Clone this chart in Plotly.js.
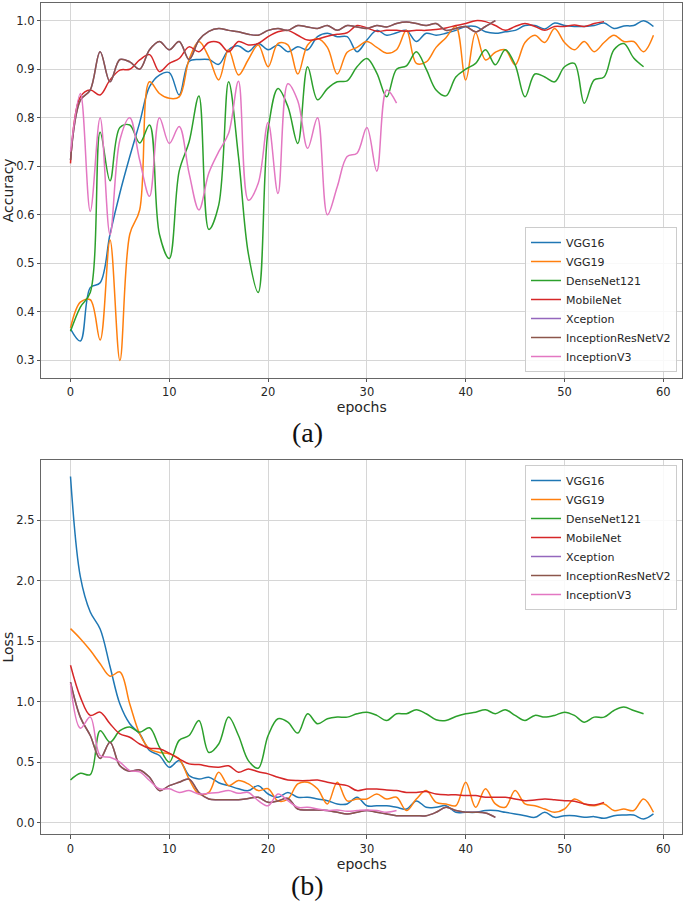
<!DOCTYPE html>
<html>
<head>
<meta charset="utf-8">
<script src="https://cdn.plot.ly/plotly-3.0.1.min.js"></script>
<style>
  html, body { margin: 0; padding: 0; background: #ffffff; }
  #chart { width: 685px; height: 907px; }
</style>
</head>
<body>
<div id="chart"></div>
<script>
// ---------------- data ----------------
const modelNames = ["VGG16", "VGG19", "DenseNet121", "MobileNet", "Xception", "InceptionResNetV2", "InceptionV3"];
const xTicks = [0, 10, 20, 30, 40, 50, 60];

// Accuracy per epoch
const vgg16Acc = [0.365, 0.34, 0.45, 0.46, 0.56, 0.645, 0.72, 0.79, 0.864, 0.888, 0.893, 0.847, 0.916, 0.92, 0.92, 0.91, 0.94, 0.948, 0.936, 0.953,
  0.94, 0.95, 0.936, 0.946, 0.94, 0.967, 0.974, 0.967, 0.967, 0.936, 0.96, 0.98, 0.97, 0.975, 0.98, 0.957, 0.974, 0.97, 0.974, 0.98,
  0.988, 0.988, 0.977, 0.974, 0.977, 0.98, 0.99, 0.99, 0.983, 0.995, 0.99, 0.988, 0.988, 0.99, 0.995, 0.984, 0.989, 0.99, 1.0, 0.988];
const vgg19Acc = [0.367, 0.42, 0.425, 0.342, 0.548, 0.30, 0.56, 0.61, 0.874, 0.85, 0.84, 0.843, 0.92, 0.957, 0.925, 0.878, 0.94, 0.888, 0.92, 0.95,
  0.905, 0.953, 0.95, 0.89, 0.95, 0.963, 0.945, 0.89, 0.935, 0.945, 0.957, 0.945, 0.933, 0.94, 0.98, 0.912, 0.915, 0.945, 0.965, 0.988,
  0.878, 0.975, 0.919, 0.935, 0.94, 0.909, 0.955, 0.97, 0.955, 0.984, 0.955, 0.94, 0.957, 0.936, 0.955, 0.97, 0.957, 0.957, 0.936, 0.97];
const denseAcc = [0.36, 0.41, 0.44, 0.77, 0.67, 0.78, 0.785, 0.748, 0.785, 0.56, 0.51, 0.69, 0.75, 0.845, 0.57, 0.62, 0.874, 0.72, 0.52, 0.44,
  0.775, 0.86, 0.823, 0.747, 0.905, 0.837, 0.86, 0.874, 0.876, 0.905, 0.922, 0.892, 0.843, 0.9, 0.907, 0.936, 0.9, 0.857, 0.845, 0.884,
  0.9, 0.912, 0.94, 0.909, 0.94, 0.909, 0.843, 0.89, 0.884, 0.874, 0.905, 0.912, 0.83, 0.878, 0.884, 0.94, 0.953, 0.923, 0.905];
const mobileAcc = [0.706, 0.843, 0.857, 0.847, 0.878, 0.898, 0.9, 0.919, 0.93, 0.895, 0.912, 0.922, 0.946, 0.936, 0.955, 0.955, 0.936, 0.957, 0.95, 0.953,
  0.967, 0.977, 0.98, 0.97, 0.96, 0.962, 0.968, 0.972, 0.975, 0.99, 0.985, 0.978, 0.98, 0.98, 0.978, 0.98, 0.98, 0.982, 0.985, 0.99,
  0.994, 1.0, 0.998, 0.99, 0.98, 0.988, 0.994, 0.988, 0.98, 0.988, 0.988, 0.991, 0.988, 0.994, 0.998];
const xceptionAcc = [0.713, 0.836, 0.857, 0.936, 0.874, 0.92, 0.915, 0.9, 0.94, 0.957, 0.94, 0.957, 0.92, 0.96, 0.978, 0.984, 0.98, 0.977, 0.972, 0.97,
  0.98, 0.984, 0.98, 0.99, 0.987, 0.984, 0.99, 0.98, 0.99, 0.987, 0.984, 0.99, 0.987, 0.994, 0.997, 0.994, 0.99, 0.994, 0.98, 0.984,
  0.988, 0.977, 0.988, 1.0];
const incResAcc = [0.713, 0.836, 0.857, 0.936, 0.874, 0.92, 0.915, 0.9, 0.94, 0.957, 0.94, 0.957, 0.92, 0.96, 0.978, 0.984, 0.98, 0.977, 0.972, 0.97,
  0.98, 0.984, 0.98, 0.99, 0.987, 0.984, 0.99, 0.98, 0.99, 0.987, 0.984, 0.99, 0.987, 0.994, 0.997, 0.994, 0.99, 0.994, 0.98, 0.984,
  0.988, 0.977, 0.988, 1.0];
const incV3Acc = [0.73, 0.85, 0.607, 0.80, 0.559, 0.754, 0.80, 0.713, 0.638, 0.80, 0.747, 0.782, 0.686, 0.61, 0.686, 0.73, 0.768, 0.875, 0.63, 0.665,
  0.79, 0.644, 0.87, 0.835, 0.737, 0.80, 0.60, 0.658, 0.72, 0.727, 0.78, 0.69, 0.857, 0.83];

// Loss per epoch
const vgg16Loss = [2.86, 2.03, 1.74, 1.60, 1.29, 0.98, 0.817, 0.734, 0.596, 0.555, 0.458, 0.513, 0.39, 0.36, 0.375, 0.33, 0.306, 0.28, 0.265, 0.306,
  0.237, 0.21, 0.25, 0.21, 0.21, 0.196, 0.182, 0.155, 0.155, 0.21, 0.14, 0.14, 0.14, 0.127, 0.113, 0.18, 0.127, 0.127, 0.14, 0.086,
  0.086, 0.086, 0.1, 0.1, 0.086, 0.072, 0.058, 0.044, 0.086, 0.044, 0.058, 0.058, 0.044, 0.05, 0.036, 0.058, 0.063, 0.063, 0.03, 0.072];
const vgg19Loss = [1.603, 1.52, 1.424, 1.313, 1.21, 1.245, 0.98, 0.734, 0.61, 0.58, 0.568, 0.527, 0.36, 0.237, 0.25, 0.417, 0.306, 0.348, 0.32, 0.265,
  0.28, 0.18, 0.195, 0.32, 0.334, 0.28, 0.155, 0.334, 0.18, 0.195, 0.196, 0.237, 0.195, 0.21, 0.1, 0.195, 0.265, 0.168, 0.155, 0.14,
  0.334, 0.127, 0.28, 0.155, 0.127, 0.265, 0.155, 0.14, 0.113, 0.086, 0.113, 0.196, 0.155, 0.14, 0.155, 0.1, 0.113, 0.1, 0.196, 0.086];
const denseLoss = [0.353, 0.408, 0.397, 0.76, 0.665, 0.76, 0.79, 0.748, 0.784, 0.624, 0.5, 0.68, 0.72, 0.844, 0.58, 0.65, 0.872, 0.72, 0.513, 0.45,
  0.72, 0.858, 0.83, 0.74, 0.9, 0.817, 0.858, 0.872, 0.872, 0.9, 0.913, 0.886, 0.844, 0.9, 0.9, 0.933, 0.9, 0.85, 0.844, 0.877,
  0.9, 0.913, 0.933, 0.9, 0.933, 0.886, 0.844, 0.886, 0.872, 0.886, 0.913, 0.886, 0.83, 0.872, 0.872, 0.927, 0.955, 0.927, 0.9];
const mobileLoss = [1.3, 1.037, 0.886, 0.913, 0.817, 0.734, 0.706, 0.65, 0.615, 0.61, 0.574, 0.527, 0.486, 0.48, 0.464, 0.458, 0.47, 0.417, 0.444, 0.42,
  0.403, 0.375, 0.353, 0.348, 0.348, 0.353, 0.334, 0.32, 0.306, 0.265, 0.278, 0.278, 0.27, 0.265, 0.25, 0.25, 0.257, 0.237, 0.23, 0.23,
  0.224, 0.224, 0.21, 0.21, 0.21, 0.196, 0.182, 0.187, 0.196, 0.19, 0.182, 0.177, 0.155, 0.147, 0.168];
const xceptionLoss = [1.16, 0.87, 0.72, 0.53, 0.665, 0.47, 0.425, 0.436, 0.375, 0.265, 0.306, 0.334, 0.36, 0.25, 0.196, 0.19, 0.19, 0.19, 0.2, 0.21,
  0.168, 0.18, 0.2, 0.113, 0.105, 0.105, 0.1, 0.086, 0.072, 0.086, 0.1, 0.086, 0.072, 0.058, 0.058, 0.058, 0.058, 0.086, 0.127, 0.1,
  0.086, 0.086, 0.08, 0.044];
const incResLoss = [1.16, 0.87, 0.72, 0.53, 0.665, 0.47, 0.425, 0.436, 0.375, 0.265, 0.306, 0.334, 0.36, 0.25, 0.196, 0.19, 0.19, 0.19, 0.2, 0.21,
  0.168, 0.18, 0.2, 0.113, 0.105, 0.105, 0.1, 0.086, 0.072, 0.086, 0.1, 0.086, 0.072, 0.058, 0.058, 0.058, 0.058, 0.086, 0.127, 0.1,
  0.086, 0.086, 0.08, 0.044];
const incV3Loss = [1.148, 0.78, 0.872, 0.555, 0.54, 0.5, 0.43, 0.42, 0.348, 0.28, 0.28, 0.25, 0.265, 0.237, 0.243, 0.25, 0.265, 0.243, 0.25, 0.182,
  0.14, 0.237, 0.182, 0.127, 0.127, 0.113, 0.1, 0.105, 0.094, 0.1, 0.105, 0.1, 0.086, 0.1];

// ---------------- styling ----------------
const colors = ["#1f77b4", "#ff7f0e", "#2ca02c", "#d62728", "#9467bd", "#8c564b", "#e377c2"];
const accSeries = [vgg16Acc, vgg19Acc, denseAcc, mobileAcc, xceptionAcc, incResAcc, incV3Acc];
const lossSeries = [vgg16Loss, vgg19Loss, denseLoss, mobileLoss, xceptionLoss, incResLoss, incV3Loss];

function epochs(arr) { return arr.map((_, i) => i); }

const traces = [];
accSeries.forEach((s, i) => {
  traces.push({
    x: epochs(s), y: s, type: "scatter", mode: "lines", name: modelNames[i],
    line: { color: colors[i], width: 1.5, shape: "spline", smoothing: 1 },
    xaxis: "x", yaxis: "y", legend: "legend", hoverinfo: "skip"
  });
});
lossSeries.forEach((s, i) => {
  traces.push({
    x: epochs(s), y: s, type: "scatter", mode: "lines", name: modelNames[i],
    line: { color: colors[i], width: 1.5, shape: "spline", smoothing: 1 },
    xaxis: "x2", yaxis: "y2", legend: "legend2", hoverinfo: "skip"
  });
});

const tickFont = { family: "DejaVu Sans", size: 11.5, color: "#262626" };
const titleFont = { family: "DejaVu Sans", size: 14, color: "#262626" };
const xDomain = [41.3 / 685, 682.3 / 685];

function xAxis(anchor) {
  return {
    domain: xDomain, anchor: anchor, range: [-2.955, 61.92],
    tickmode: "array", tickvals: xTicks, ticktext: xTicks.map(String),
    ticks: "outside", ticklen: 3.5, tickwidth: 1, tickcolor: "#555",
    showgrid: true, gridcolor: "#d6d6d6", gridwidth: 1,
    showline: true, mirror: true, linecolor: "#666", linewidth: 1,
    zeroline: false, tickfont: tickFont, automargin: false,
    title: { text: "epochs", font: titleFont, standoff: 0 }
  };
}
function yAxis(anchor, domain, range, tickvals, ticktext, title) {
  return {
    domain: domain, anchor: anchor, range: range,
    tickmode: "array", tickvals: tickvals, ticktext: ticktext,
    ticks: "outside", ticklen: 3.5, tickwidth: 1, tickcolor: "#555",
    showgrid: true, gridcolor: "#d6d6d6", gridwidth: 1,
    showline: true, mirror: true, linecolor: "#666", linewidth: 1,
    zeroline: false, tickfont: tickFont, automargin: false,
    title: { text: title, font: titleFont, standoff: 2 }
  };
}

const accTicks = [0.3, 0.4, 0.5, 0.6, 0.7, 0.8, 0.9, 1.0];
const lossTicks = [0.0, 0.5, 1.0, 1.5, 2.0, 2.5];

const legendCommon = {
  font: { family: "DejaVu Sans", size: 11, color: "#262626" },
  bgcolor: "rgba(255,255,255,0.85)", bordercolor: "#cccccc", borderwidth: 1,
  xanchor: "right", itemwidth: 30, tracegroupgap: 0
};

const layout = {
  width: 685, height: 907,
  margin: { l: 0, r: 0, t: 0, b: 0 },
  paper_bgcolor: "#ffffff", plot_bgcolor: "#ffffff",
  font: { family: "DejaVu Sans", color: "#262626" },
  showlegend: true,
  xaxis: xAxis("y"),
  yaxis: yAxis("x", [529.1 / 907, 904.3 / 907], [0.264, 1.037], accTicks, accTicks.map(v => v.toFixed(1)), "Accuracy"),
  xaxis2: xAxis("y2"),
  yaxis2: yAxis("x2", [72.7 / 907, 447 / 907], [-0.096, 2.996], lossTicks, lossTicks.map(v => v.toFixed(1)), "Loss"),
  legend: Object.assign({}, legendCommon, { x: 677 / 685, y: (907 - 372) / 907, yanchor: "bottom" }),
  legend2: Object.assign({}, legendCommon, { x: 677 / 685, y: (907 - 465) / 907, yanchor: "top" }),
  annotations: [
    { text: "(a)", xref: "paper", yref: "paper", x: 307.5 / 685, y: (907 - 432.5) / 907, xanchor: "center", yanchor: "middle",
      showarrow: false, font: { family: "Liberation Serif", size: 28, color: "#111" } },
    { text: "(b)", xref: "paper", yref: "paper", x: 307.5 / 685, y: (907 - 885) / 907, xanchor: "center", yanchor: "middle",
      showarrow: false, font: { family: "Liberation Serif", size: 28, color: "#111" } }
  ]
};

Plotly.newPlot("chart", traces, layout, { staticPlot: true, displayModeBar: false });
</script>
</body>
</html>
